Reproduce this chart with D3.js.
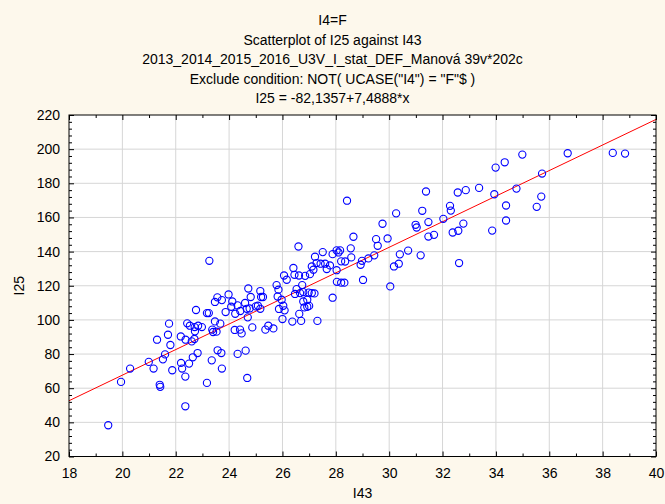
<!DOCTYPE html>
<html>
<head>
<meta charset="utf-8">
<script src="https://cdn.jsdelivr.net/npm/d3@7"></script>
<style>
  html, body { margin: 0; padding: 0; background: #fdf8ec; }
  svg { display: block; font-family: "Liberation Sans", Arial, sans-serif; }
</style>
</head>
<body>
<div id="chart"></div>
<script>
// Scatterplot of I25 against I43 (I4=F).
const titleLines = [
  "I4=F",
  "Scatterplot of I25 against I43",
  "2013_2014_2015_2016_U3V_I_stat_DEF_Manová 39v*202c",
  "Exclude condition: NOT( UCASE(\"I4\") = \"F\"$ )",
  "I25 = -82,1357+7,4888*x"
];
const xTicks = [18, 20, 22, 24, 26, 28, 30, 32, 34, 36, 38, 40];
const yTicks = [20, 40, 60, 80, 100, 120, 140, 160, 180, 200, 220];
const fitIntercept = -82.1357, fitSlope = 7.4888;

const i43 = [
  19.47, 19.95, 20.29, 20.99, 21.17, 21.40, 21.42, 21.30, 21.52, 21.60, 21.71, 21.80, 21.75, 21.87,
  22.19, 22.20, 22.24, 22.36, 22.36, 22.37, 22.43, 22.50, 22.53, 22.60, 22.64, 22.70, 22.72, 22.71,
  22.76, 22.82, 22.84, 22.98, 23.17, 23.24, 23.17, 23.35, 23.37, 23.40, 23.47, 23.47, 23.53, 23.56,
  23.57, 23.67, 23.71, 23.73, 23.73, 23.87, 23.98, 24.08, 24.12, 24.21, 24.23, 24.32, 24.32, 24.41,
  24.42, 24.47, 24.60, 24.62, 24.66, 24.68, 24.70, 24.72, 24.77, 24.81, 24.87, 25.00, 25.08, 25.17,
  25.17, 25.20, 25.27, 25.36, 25.47, 23.26, 25.66, 26.60, 25.78, 25.85, 25.82, 25.97, 26.03, 26.08,
  25.87, 26.00, 26.06, 26.16, 26.41, 26.45, 26.62, 26.85, 27.03, 27.16, 27.28, 27.10, 27.60, 27.78,
  27.66, 27.43, 26.74, 26.53, 26.66, 26.78, 26.98, 27.10, 27.20, 26.47, 26.78, 26.82, 26.93, 27.00,
  26.93, 26.63, 26.37, 26.70, 27.31, 27.22, 27.51, 27.88, 27.88, 28.03, 28.16, 28.10, 28.42, 28.66,
  29.51, 29.57, 29.94, 29.75, 30.26, 28.56, 28.58, 28.20, 28.35, 28.98, 28.93, 29.22, 29.44, 30.40,
  30.71, 30.36, 30.18, 31.18, 29.02, 30.04, 28.03, 28.04, 28.20, 28.32, 31.24, 30.99, 31.03, 31.38,
  31.47, 31.47, 31.68, 34.99, 34.33, 33.99, 33.37, 32.87, 32.57, 33.94, 34.77, 34.38, 34.38, 33.86,
  32.28, 32.31, 32.03, 32.78, 32.59, 32.38, 32.62, 35.73, 35.70, 35.53, 36.69, 38.38, 38.84
];
const i25 = [
  38.3, 63.7, 71.5, 75.4, 71.5, 62.0, 60.8, 88.4, 76.9, 79.8, 91.3, 85.3, 97.8, 70.5,
  90.3, 74.8, 71.5, 66.8, 49.4, 88.4, 98.0, 74.4, 96.6, 87.4, 78.1, 88.8, 93.3, 95.8,
  105.8, 80.6, 96.6, 95.8, 104.0, 104.0, 63.1, 76.3, 94.3, 92.9, 99.1, 110.5, 93.1, 113.2,
  82.2, 97.8, 80.6, 111.6, 71.5, 104.6, 114.9, 107.7, 110.8, 94.1, 103.6, 80.1, 108.5, 94.3,
  105.2, 92.1, 109.9, 82.0, 106.5, 66.0, 101.5, 118.4, 106.7, 113.4, 95.6, 107.9, 108.3, 116.9,
  106.5, 113.4, 113.4, 94.3, 96.6, 134.6, 95.0, 143.0, 120.4, 117.7, 113.7, 111.8, 108.3, 105.6,
  106.4, 100.5, 126.0, 123.5, 130.4, 126.4, 126.0, 125.8, 126.8, 129.4, 133.3, 131.3, 132.9, 131.9,
  129.8, 132.9, 120.4, 118.0, 115.7, 116.3, 116.0, 115.7, 115.5, 115.2, 110.8, 107.3, 107.7, 108.2,
  111.8, 103.5, 99.0, 99.4, 99.4, 137.0, 139.7, 138.5, 113.0, 140.7, 140.7, 139.5, 169.8, 148.7,
  147.3, 143.4, 147.7, 156.3, 162.4, 141.9, 136.6, 134.3, 134.2, 134.6, 132.3, 136.0, 137.8, 138.4,
  140.6, 132.9, 131.3, 137.8, 123.4, 119.6, 129.1, 122.3, 121.8, 121.8, 163.9, 155.7, 154.1, 175.2,
  157.3, 148.8, 149.8, 196.8, 192.3, 189.2, 177.3, 176.0, 174.6, 173.6, 176.9, 167.0, 158.2, 152.3,
  166.8, 164.0, 159.2, 156.4, 152.2, 151.2, 133.3, 185.7, 172.2, 166.2, 197.6, 197.8, 197.4
];

const W = 665, H = 504;
const m = { left: 69, right: 9, top: 115, bottom: 47.5 };
const pw = W - m.left - m.right, ph = H - m.top - m.bottom;

const svg = d3.select("#chart").append("svg").attr("width", W).attr("height", H);
svg.append("rect").attr("width", W).attr("height", H).attr("fill", "#fdf8ec");

const x = d3.scaleLinear().domain([18, 40]).range([0, pw]);
const y = d3.scaleLinear().domain([20, 220]).range([ph, 0]);

// titles
svg.append("g").selectAll("text").data(titleLines).join("text")
  .attr("x", W / 2).attr("y", (d, i) => 25 + i * 19.5)
  .attr("text-anchor", "middle").attr("font-size", 14).attr("fill", "#000")
  .text(d => d);

const g = svg.append("g").attr("transform", `translate(${m.left},${m.top})`);
g.append("rect").attr("width", pw).attr("height", ph).attr("fill", "#fff");

// grid
g.append("g").selectAll("line").data(xTicks.slice(1, -1)).join("line")
  .attr("x1", d => x(d)).attr("x2", d => x(d)).attr("y1", 0).attr("y2", ph)
  .attr("stroke", "#d6d6d6").attr("stroke-width", 1);
g.append("g").selectAll("line").data(yTicks.slice(1, -1)).join("line")
  .attr("y1", d => y(d)).attr("y2", d => y(d)).attr("x1", 0).attr("x2", pw)
  .attr("stroke", "#d6d6d6").attr("stroke-width", 1);

// fit line, clipped to the plot
g.append("clipPath").attr("id", "clip").append("rect").attr("width", pw).attr("height", ph);
g.append("line").attr("clip-path", "url(#clip)")
  .attr("x1", x(18)).attr("y1", y(fitIntercept + fitSlope * 18))
  .attr("x2", x(40)).attr("y2", y(fitIntercept + fitSlope * 40))
  .attr("stroke", "#ff0000").attr("stroke-width", 1);

// points
g.append("g").selectAll("circle").data(i43.map((v, i) => [v, i25[i]])).join("circle")
  .attr("cx", d => x(d[0])).attr("cy", d => y(d[1])).attr("r", 3.6)
  .attr("fill", "none").attr("stroke", "#0000ff").attr("stroke-width", 1.1);

// axes: ticks inward on all four sides
const xMinor = d3.range(19, 40, 2), yMinor = d3.range(20, 221, 4).filter(v => v % 20);
const tickAxis = (axis, scale, major, minor) => {
  const a = axis(scale).tickValues(major).tickSizeInner(-5).tickSizeOuter(0);
  const b = axis(scale).tickValues(minor).tickSizeInner(-3).tickSizeOuter(0).tickFormat("");
  return [a, b];
};
const [xb, xbm] = tickAxis(d3.axisBottom, x, xTicks, xMinor);
const [xt, xtm] = tickAxis(d3.axisTop, x, xTicks, xMinor);
const [yl, ylm] = tickAxis(d3.axisLeft, y, yTicks, yMinor);
const [yr, yrm] = tickAxis(d3.axisRight, y, yTicks, yMinor);

const style = sel => {
  sel.select(".domain").remove();
  sel.selectAll("line").attr("stroke", "#000");
  sel.selectAll("text").attr("font-size", 14).attr("fill", "#000")
    .attr("font-family", "\"Liberation Sans\", Arial, sans-serif");
};
g.append("g").attr("transform", `translate(0,${ph})`).call(xb).call(style)
  .selectAll("text").attr("y", 12);
g.append("g").attr("transform", `translate(0,${ph})`).call(xbm).call(style);
g.append("g").call(xt.tickFormat("")).call(style);
g.append("g").call(xtm).call(style);
g.append("g").call(yl).call(style).selectAll("text").attr("x", -9);
g.append("g").call(ylm).call(style);
g.append("g").attr("transform", `translate(${pw},0)`).call(yr.tickFormat("")).call(style);
g.append("g").attr("transform", `translate(${pw},0)`).call(yrm).call(style);

g.append("rect").attr("width", pw).attr("height", ph)
  .attr("fill", "none").attr("stroke", "#000").attr("stroke-width", 1);

// axis titles
svg.append("text").attr("x", m.left + pw / 2).attr("y", 498)
  .attr("text-anchor", "middle").attr("font-size", 14).text("I43");
svg.append("text").attr("transform", `translate(24,${m.top + ph / 2}) rotate(-90)`)
  .attr("text-anchor", "middle").attr("font-size", 14).text("I25");
</script>
</body>
</html>
